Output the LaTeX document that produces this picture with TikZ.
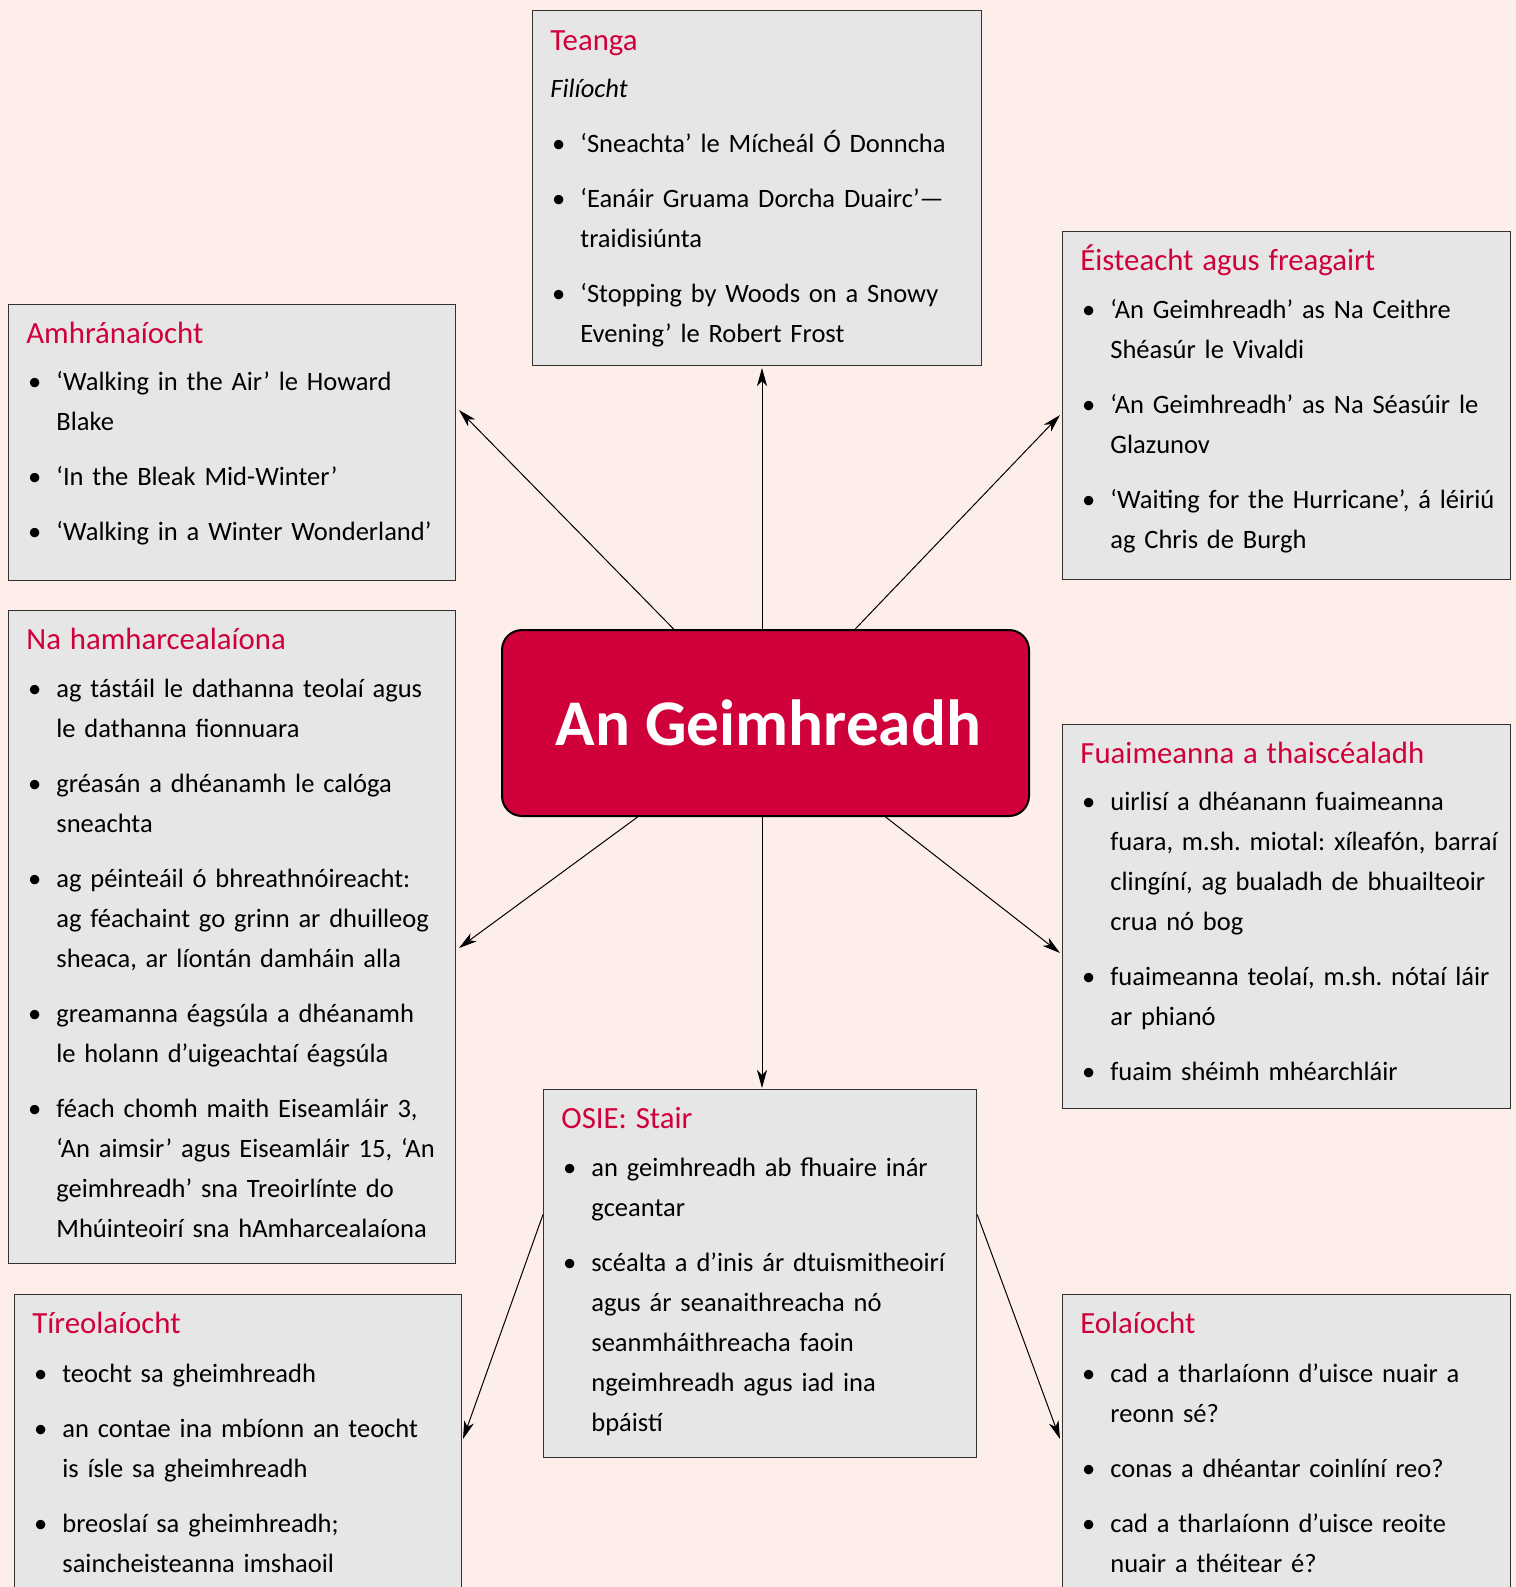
\documentclass[tikz,border=0pt]{standalone}
\usepackage{fontspec}
\setmainfont{Carlito}
\usetikzlibrary{arrows.meta,calc}
\frenchspacing

\definecolor{bgpink}{RGB}{253,238,234}
\definecolor{panelgrey}{RGB}{230,230,230}
\definecolor{titlered}{RGB}{208,0,58}

\newcommand{\ttl}[1]{{\color{titlered}\fontsize{15.4}{20}\selectfont #1}}
\newcommand{\bul}{\makebox[15pt][l]{\hspace{0.8pt}\textbullet}}
\newcommand{\ind}{\hspace*{15pt}}

\begin{document}
\begin{tikzpicture}[x=0.5pt,y=-0.5pt,
	panel/.style 2 args={draw=black!80,line width=0.6pt,fill=panelgrey,anchor=north west,inner sep=0pt,minimum width=#1,minimum height=#2},
	list/.style={anchor=base west,inner sep=0pt,text width=280pt,align=left,font=\fontsize{13.25}{20}\selectfont},
	hub/.style={draw=black,line width=1pt,fill=titlered,rounded corners=10pt,minimum width=263.5pt,minimum height=93pt,text=white,font=\fontsize{32.6}{40}\selectfont\bfseries},
	link/.style={draw,line width=0.5pt,-{Stealth[length=9pt,width=5pt,inset=2.5pt]}}]
	\useasboundingbox (0,0) rectangle (1516,1587);
	\fill[bgpink] (0,0) rectangle (1516,1587);
	\clip (0,0) rectangle (1516,1587);

	\node[panel={224.5pt}{177.5pt}] (teanga) at (532,10) {};
	\node[panel={223.5pt}{138pt}] (amhr) at (8,304) {};
	\node[panel={224pt}{174pt}] (eist) at (1062,231) {};
	\node[panel={223.5pt}{326.5pt}] (na) at (8,610) {};
	\node[panel={224pt}{192pt}] (fuaim) at (1062,724) {};
	\node[panel={216.5pt}{184pt}] (osie) at (543,1089) {};
	\node[panel={223.5pt}{170pt}] (tir) at (14,1294) {};
	\node[panel={224pt}{170pt}] (eol) at (1062,1294) {};

	\node[hub] (hub) at (765.5,723) {\hspace*{3pt}An Geimhreadh};

	\node[list] (teangaList) at ([shift={(18,40)}]teanga.north west) {\ttl{Teanga}\\[3.5pt]
		\textit{Filíocht}\\[7.5pt]
		\bul ‘Sneachta’ le Mícheál Ó Donncha\\[7.5pt]
		\bul ‘Eanáir Gruama Dorcha Duairc’—\\
		\ind traidisiúnta\\[7.5pt]
		\bul ‘Stopping by Woods on a Snowy\\
		\ind Evening’ le Robert Frost};
	\node[list] (amhrList) at ([shift={(18,39)}]amhr.north west) {\ttl{Amhránaíocht}\\[3.5pt]
		\bul ‘Walking in the Air’ le Howard\\
		\ind Blake\\[7.5pt]
		\bul ‘In the Bleak Mid-Winter’\\[7.5pt]
		\bul ‘Walking in a Winter Wonderland’};
	\node[list] (eistList) at ([shift={(18,39)}]eist.north west) {\ttl{Éisteacht agus freagairt}\\[4pt]
		\bul ‘An Geimhreadh’ as Na Ceithre\\
		\ind Shéasúr le Vivaldi\\[7.5pt]
		\bul ‘An Geimhreadh’ as Na Séasúir le\\
		\ind Glazunov\\[7.5pt]
		\bul ‘Waiting for the Hurricane’, á léiriú\\
		\ind ag Chris de Burgh};
	\node[list] (naList) at ([shift={(18,39)}]na.north west) {\ttl{Na hamharcealaíona}\\[4pt]
		\bul ag tástáil le dathanna teolaí agus\\
		\ind le dathanna fionnuara\\[7.5pt]
		\bul gréasán a dhéanamh le calóga\\
		\ind sneachta\\[7.5pt]
		\bul ag péinteáil ó bhreathnóireacht:\\
		\ind ag féachaint go grinn ar dhuilleog\\
		\ind sheaca, ar líontán damháin alla\\[7.5pt]
		\bul greamanna éagsúla a dhéanamh\\
		\ind le holann d’uigeachtaí éagsúla\\[7.5pt]
		\bul féach chomh maith Eiseamláir 3,\\
		\ind ‘An aimsir’ agus Eiseamláir 15, ‘An\\
		\ind geimhreadh’ sna Treoirlínte do\\
		\ind Mhúinteoirí sna hAmharcealaíona};
	\node[list] (fuaimList) at ([shift={(18,39)}]fuaim.north west) {\ttl{Fuaimeanna a thaiscéaladh}\\[3.5pt]
		\bul uirlisí a dhéanann fuaimeanna\\
		\ind fuara, m.sh. miotal: xíleafón, barraí\\
		\ind clingíní, ag bualadh de bhuailteoir\\
		\ind crua nó bog\\[7.5pt]
		\bul fuaimeanna teolaí, m.sh. nótaí láir\\
		\ind ar phianó\\[7.5pt]
		\bul fuaim shéimh mhéarchláir};
	\node[list] (osieList) at ([shift={(18,39)}]osie.north west) {\ttl{OSIE: Stair}\\[4pt]
		\bul an geimhreadh ab fhuaire inár\\
		\ind gceantar\\[7.5pt]
		\bul scéalta a d’inis ár dtuismitheoirí\\
		\ind agus ár seanaithreacha nó\\
		\ind seanmháithreacha faoin\\
		\ind ngeimhreadh agus iad ina\\
		\ind bpáistí};
	\node[list] (tirList) at ([shift={(18,39)}]tir.north west) {\ttl{Tíreolaíocht}\\[4.5pt]
		\bul teocht sa gheimhreadh\\[7.5pt]
		\bul an contae ina mbíonn an teocht\\
		\ind is ísle sa gheimhreadh\\[7.5pt]
		\bul breoslaí sa gheimhreadh;\\
		\ind saincheisteanna imshaoil};
	\node[list] (eolList) at ([shift={(18,39)}]eol.north west) {\ttl{Eolaíocht}\\[4.5pt]
		\bul cad a tharlaíonn d’uisce nuair a\\
		\ind reonn sé?\\[7.5pt]
		\bul conas a dhéantar coinlíní reo?\\[7.5pt]
		\bul cad a tharlaíonn d’uisce reoite\\
		\ind nuair a théitear é?};

	\coordinate (toAmhr) at (459,410);
	\coordinate (toTeanga) at (762,368);
	\coordinate (toEist) at (1060,415);
	\coordinate (toNa) at (459,948);
	\coordinate (toOsie) at (762,1088);
	\coordinate (toFuaim) at (1060,953);
	\coordinate (toTir) at (463,1439);
	\coordinate (toEol) at (1060,1439);

	\draw[link] (hub) -- (toAmhr);
	\draw[link] (hub.north -| toTeanga) -- (toTeanga);
	\draw[link] (hub) -- (toEist);
	\draw[link] (hub) -- (toNa);
	\draw[link] (hub.south -| toOsie) -- (toOsie);
	\draw[link] (hub) -- (toFuaim);
	\draw[link] ($(osie.north west)!0.34!(osie.south west)$) -- (toTir);
	\draw[link] ($(osie.north east)!0.34!(osie.south east)$) -- (toEol);
\end{tikzpicture}
\end{document}
